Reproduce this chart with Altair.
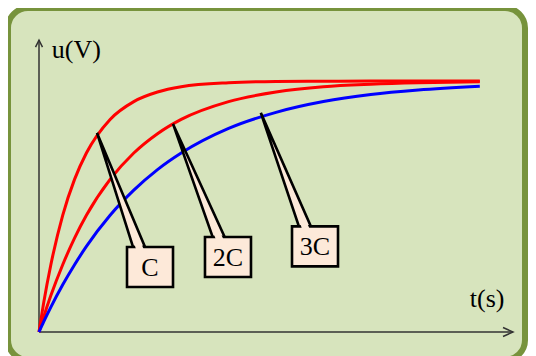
import altair as alt
import pandas as pd

# ---- data (t in s, u as a fraction of the final voltage) ----
t_vals = [0, 0.1, 0.25, 0.5, 0.75, 1.0, 1.5, 2.0, 2.5, 3.0, 4.0, 5.0, 6.0, 7.0, 8.0, 9.3]
u_C = [0, 0.118, 0.268, 0.465, 0.608, 0.713, 0.847, 0.918, 0.956, 0.977, 0.993, 0.998, 0.999, 1.0, 1.0, 1.0]
u_2C = [0, 0.061, 0.145, 0.268, 0.374, 0.465, 0.608, 0.713, 0.790, 0.847, 0.918, 0.956, 0.977, 0.987, 0.993, 0.997]
u_3C = [0, 0.041, 0.099, 0.188, 0.268, 0.341, 0.465, 0.565, 0.647, 0.713, 0.811, 0.875, 0.918, 0.946, 0.964, 0.979]
series_names = ["C", "2C", "3C"]
series_colors = ["#FF0000", "#FF0000", "#0000FF"]

# callouts: label, point on curve (tip), box centre
callout_labels = ["C", "2C", "3C"]
tip_t = [1.224, 2.827, 4.68]
tip_u = [0.793, 0.829, 0.873]
box_t = [2.342, 3.987, 5.823]
box_u = [0.259, 0.299, 0.341]
neck_t = [2.11, 3.79, 5.61]     # where the pointer meets the box top (centre)

axis_labels = ["u(V)", "t(s)"]
axis_label_t = [0.27, 9.09]
axis_label_u = [1.092, 0.10]
x_axis_end = 10.0
y_axis_end = 1.163

# ---- layout (pixels) ----
W, H = 517, 352
PX_T, PX_U = 47.4, 251.0
OX, OY = 31.0, 324.0
x_dom = [-OX / PX_T, (W - OX) / PX_T]
y_dom = [(OY - H) / PX_U, OY / PX_U]
xs = alt.Scale(domain=x_dom, nice=False, zero=False)
ys = alt.Scale(domain=y_dom, nice=False, zero=False)
SERIF = "Liberation Serif"

def X(f, **kw):
    return alt.X(f, type="quantitative", scale=xs, axis=None, **kw)

def Y(f, **kw):
    return alt.Y(f, type="quantitative", scale=ys, axis=None, **kw)

curves = pd.DataFrame({
    "t": t_vals * 3,
    "u": u_C + u_2C + u_3C,
    "s": sum([[n] * len(t_vals) for n in series_names], []),
})

axes_df = pd.DataFrame({"x": [0, 0], "x2": [x_axis_end, 0], "y": [0, 0], "y2": [0, y_axis_end]})
axes = alt.Chart(axes_df).mark_rule(color="#333333", strokeWidth=1.5).encode(
    x=X("x"), x2="x2", y=Y("y"), y2="y2")

arrow_up = alt.Chart(pd.DataFrame({"x": [0], "y": [y_axis_end]})).mark_point(
    shape="M -0.5 1 L 0 0 L 0.5 1", filled=False, size=196, color="#333333",
    strokeWidth=1.5, opacity=1
).encode(x=X("x"), y=Y("y"))
arrow_right = alt.Chart(pd.DataFrame({"x": [x_axis_end], "y": [0]})).mark_point(
    shape="M -0.45 1 L 0 0 L 0.45 1", filled=False, size=400, color="#333333",
    strokeWidth=1.5, opacity=1, angle=90
).encode(x=X("x"), y=Y("y"))

lines = alt.Chart(curves).mark_line(strokeWidth=3, interpolate="monotone").encode(
    x=X("t"), y=Y("u"),
    color=alt.Color("s:N", scale=alt.Scale(domain=series_names, range=series_colors), legend=None),
    detail="s:N",
)

BOX_HW, BOX_HH = 23.0, 20.0
NECK_HW = 6.0
rows, patch = [], []
for lab, tt, tu, bt, bu, nt in zip(callout_labels, tip_t, tip_u, box_t, box_u, neck_t):
    top_u = bu + BOX_HH / PX_U
    rows.append({"lab": lab, "y": tu, "xl": tt, "xr": tt})
    rows.append({"lab": lab, "y": top_u, "xl": nt - NECK_HW / PX_T, "xr": nt + NECK_HW / PX_T})
    # small fill patch that opens the box's top edge where the pointer enters
    L = (tu - top_u) * PX_U
    for h in (7.0, -2.0):
        f = h / L
        c = nt + (tt - nt) * f
        hw = NECK_HW * (1 - f) - 2.3
        patch.append({"lab": lab, "y": top_u + h / PX_U, "xl": c - hw / PX_T, "xr": c + hw / PX_T})
ptr_df = pd.DataFrame(rows)
patch_df = pd.DataFrame(patch)
pointers = alt.Chart(ptr_df).mark_area(
    orient="horizontal", fill="#FDE9D9", stroke="#000000", strokeWidth=2.6, opacity=1,
    strokeJoin="miter"
).encode(y=Y("y"), x=X("xl"), x2="xr", detail="lab:N")
patches = alt.Chart(patch_df).mark_area(
    orient="horizontal", fill="#FDE9D9", opacity=1
).encode(y=Y("y"), x=X("xl"), x2="xr", detail="lab:N")

box_df = pd.DataFrame({
    "lab": callout_labels,
    "x": [b - BOX_HW / PX_T for b in box_t],
    "x2": [b + BOX_HW / PX_T for b in box_t],
    "y": [b - BOX_HH / PX_U for b in box_u],
    "y2": [b + BOX_HH / PX_U for b in box_u],
    "ct": box_t, "cu": box_u,
})
boxes = alt.Chart(box_df).mark_rect(fill="#FDE9D9", stroke="#000000", strokeWidth=2.6).encode(
    x=X("x"), x2="x2", y=Y("y"), y2="y2")
box_text = alt.Chart(box_df).mark_text(
    font=SERIF, fontSize=26, color="#000000", baseline="middle", align="center", dy=1
).encode(x=X("ct"), y=Y("cu"), text="lab:N")

lab_df = pd.DataFrame({"lab": axis_labels, "x": axis_label_t, "y": axis_label_u})
labels = alt.Chart(lab_df).mark_text(
    font=SERIF, fontSize=26, color="#000000", align="left", baseline="alphabetic"
).encode(x=X("x"), y=Y("y"), text="lab:N")

chart = alt.layer(axes, arrow_up, arrow_right, lines, pointers, boxes, patches, box_text, labels).properties(
    width=W, height=H,
    autosize=alt.AutoSizeParams(type="none"),
    padding={"left": 0, "top": 0, "right": 3, "bottom": 0},
    background="#FFFFFF",
).configure_view(
    fill="#D7E4BD", stroke="#77933C", strokeWidth=6, cornerRadius=20
)

chart.save("out.html", embed_options={"renderer": "svg", "actions": False})
